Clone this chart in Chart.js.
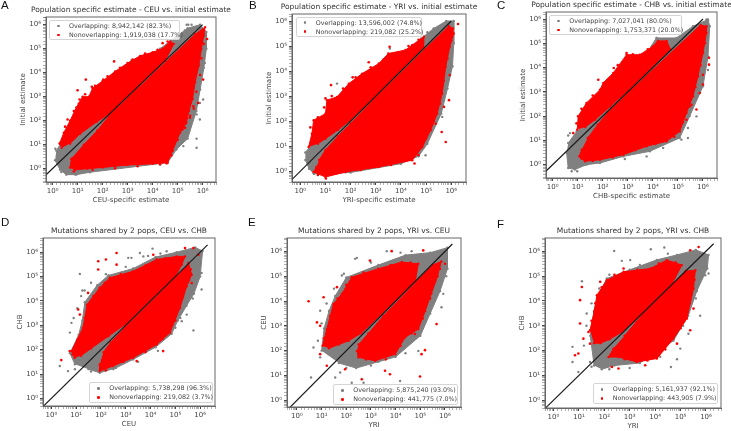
<!DOCTYPE html>
<html>
<head>
<meta charset="utf-8">
<title>Population specific estimates</title>
<script src="https://cdn.jsdelivr.net/npm/chart.js@4/dist/chart.umd.min.js"></script>
<style>
  html, body { margin: 0; width: 731px; height: 431px; background: #fff; overflow: hidden; font-family: "DejaVu Sans", sans-serif; }
  canvas { position: absolute; filter: blur(0.3px); }
  .letter { position: absolute; font: 11.5px "Liberation Sans", sans-serif; color: #111; }
  .legend { position: absolute; box-sizing: border-box; border: 1px solid #d4d4d4; border-radius: 2px; background: rgba(255,255,255,0.8);
            font-size: 6.35px; color: #444; white-space: nowrap; }
  .legend div { position: absolute; }
  .legend i { position: absolute; width: 2.6px; height: 2.6px; border-radius: 50%; }
</style>
</head>
<body>
<script>
// All pairs are [log10 x, log10 y].
const panelLetters = ['A', 'B', 'C', 'D', 'E', 'F'];
const chartTitles = [
  'Population specific estimate - CEU vs. initial estimate',
  'Population specific estimate - YRI vs. initial estimate',
  'Population specific estimate - CHB vs. initial estimate',
  'Mutations shared by 2 pops, CEU vs. CHB',
  'Mutations shared by 2 pops, YRI vs. CEU',
  'Mutations shared by 2 pops, YRI vs. CHB'
];
const xLabels = ['CEU-specific estimate', 'YRI-specific estimate', 'CHB-specific estimate', 'CEU', 'YRI', 'YRI'];
const yLabels = ['Initial estimate', 'Initial estimate', 'Initial estimate', 'CHB', 'CEU', 'CHB'];
const overlapLabels = ['Overlapping: 8,942,142 (82.3%)', 'Overlapping: 13,596,002 (74.8%)', 'Overlapping: 7,027,041 (80.0%)',
  'Overlapping: 5,738,298 (96.3%)', 'Overlapping: 5,875,240 (93.0%)', 'Overlapping: 5,161,937 (92.1%)'];
const nonOverlapLabels = ['Nonoverlapping: 1,919,038 (17.7%)', 'Nonoverlapping: 219,082 (25.2%)', 'Nonoverlapping: 1,753,371 (20.0%)',
  'Nonoverlapping: 219,082 (3.7%)', 'Nonoverlapping: 441,775 (7.0%)', 'Nonoverlapping: 443,905 (7.9%)'];
const diagonalEnds = [[-1, 6], [-1, 6], [-1, 6], [-1, 6.3], [-1, 6.3], [-1, 6.3]];

// Panel A
const grayCloudA = [[0.15,0.75],[0.3,1],[1.5,2],[3,3.5],[4.3,5],[4.75,5.35],[5.4,5.85],[5.9,6],[6.15,5.7],[6.15,5],[6.05,4.2],[5.9,3.3],[5.75,2.4],[5.4,1.25],[4.95,0.8],[4.6,0.25],[1.5,-0.15],[0.95,-0.25],[0.55,-0.25],[0.3,-0.05],[0.1,0.35]];
const redUpperA = [[0.37,0.87],[0.28,1.05],[0.45,1.5],[0.7,2],[0.95,2.55],[1.2,3],[1.45,3],[1.6,3.35],[2,3.65],[2.5,4.05],[3,4.4],[3.5,4.7],[4,4.85],[4.4,5],[4.7,5.3],[4.85,5.2],[4.5,4.5],[3,3],[2.3,2.3],[1.77,1.95],[1.1,1.45],[0.7,1.05]];
const redLowerA = [[0.75,0.4],[0.7,0.05],[0.9,-0.05],[1.4,0],[2,0.05],[3,0.15],[4,0.2],[4.6,0.25],[4.8,0.75],[5.1,1.5],[5.35,1.9],[5.45,2.4],[5.6,2.9],[5.7,3.6],[5.85,4.3],[5.95,5],[6.05,5.55],[6.1,5.9],[5.7,5.6],[2.3,2.25],[1.8,1.6],[1.25,1],[0.8,0.45]];
const redDotsA = [[2.46,4.47],[1.33,3.71],[1,3.27],[1.57,3.41],[1.08,2.88],[1.24,2.81],[1.57,2.81],[0.31,1.08],[2.03,3.71],[2.86,4.2],[4.1,4.75],[4.4,5.23],[6.18,5.4],[5.82,2.74],[5.63,2.6],[5.49,2.12],[6.02,3.71],[5.43,2.88],[4.56,0.22],[5.2,1.63],
  [0.5,1.75],[0.6,2.05],[0.85,2.4],[1.05,2.7],[1.3,3.1],[1.7,3.45],[2.2,3.85],[2.7,4.2],[3.2,4.55],[3.7,4.8],[4.2,4.95],[4.6,5.3],[0.85,-0.12],[1.6,-0.05],[2.5,0.02],[3.4,0.1],[4.3,0.17],[4.75,0.55],[5,1.2],[5.3,1.7],[5.5,2.2],[5.65,2.5],[5.75,3.2],[5.9,3.9],[5.95,4.6],[6.05,5.2]];
const grayDotsA = [[3.16,4.52],[5.76,2.26],[5.89,2.05],[5.76,1.25],[5.76,0.87],[5.23,0.94],[5.09,1.15],[6.09,4.4],[6.02,2.88],[5.76,3.02],[0.11,0.83],[0.35,-0.14],[0.9,-0.24],[5.43,6],[5.56,6],[5.29,5.76],[5.63,5.79],[5.36,6],[1.8,3.32],[5.89,2.74]];

// Panel B
const grayCloudB = [[0.2,0.75],[0.4,1],[1.5,1.9],[3,3.3],[4.3,4.8],[4.8,5.3],[5.3,5.7],[5.8,6],[6.1,6],[6.1,5.1],[6.05,4.2],[5.85,3.3],[5.6,2.3],[5.05,1.1],[4.7,0.6],[4,0.3],[2,-0.05],[1,-0.1],[0.55,-0.1],[0.35,0.1],[0.2,0.45]];
const redUpperB = [[0.33,0.97],[0.46,1.5],[0.53,2.04],[1,2.3],[1.06,2.84],[1.46,2.97],[1.93,3.5],[2.46,3.9],[3.12,4.3],[3.5,4.7],[4.18,4.84],[4.45,5.04],[4.91,5.37],[4.9,4.9],[3,3],[2,2.05],[1.5,1.65],[1,1.3],[0.7,1.1]];
const redLowerB = [[0.64,0.17],[0.53,-0.03],[1,-0.23],[1.8,-0.03],[3.12,0.17],[4.45,0.44],[4.85,0.97],[5.18,1.64],[5.44,2.3],[5.64,3.1],[5.78,4.17],[5.94,4.97],[6.1,5.5],[6.07,5.7],[5.9,5.8],[3,2.95],[2,1.9],[1.5,1.4],[1,0.85],[0.75,0.45]];
const redDotsB = [[6.27,5.88],[5.78,1.17],[5.62,1.57],[4.54,0.31],[2.72,4.35],[1.22,3.44],[2.08,3.75],[1,2.91],[1.33,2.5],[3.55,4.97],[5.94,3.84],[5.91,2.84],[5.71,2.57],[5.38,1.9],[1.02,-0.29],[0.73,-0.09],
  [0.4,1.75],[0.7,2.15],[0.95,2.55],[1.25,3],[1.7,3.3],[2.2,3.75],[2.8,4.15],[3.3,4.45],[3.9,4.75],[4.3,5],[4.7,5.25],[0.7,-0.15],[1.4,-0.1],[2.4,0.05],[3.6,0.25],[4.7,0.65],[5,1.3],[5.3,2],[5.55,2.7],[5.7,3.6],[5.85,4.5],[6,5.2]];
const grayDotsB = [[3.56,4.9],[5.51,2.9],[5.84,3.5],[4.98,0.64],[4.71,0.9],[5.05,5.55],[0.27,0.57],[0.53,-0.09],[5.91,4.7],[6.04,4.17],[4.92,0.97],[5.64,2.17],[5.51,2.3],[1.46,3.5]];

// Panel C
const grayCloudC = [[0.62,0.89],[0.96,1.37],[1.35,1.65],[3,3.4],[4.14,5.22],[4.94,5.22],[5.6,5.7],[6.2,5.98],[6.27,5.7],[6.2,4.46],[6,3.23],[5.47,2],[5.07,1.1],[3.88,0.55],[2.82,0.34],[1.89,0.07],[1.35,0],[0.89,-0.2],[0.62,-0.14],[0.56,0.48]];
const redUpperC = [[0.98,1.44],[1.02,2],[1.35,2.54],[1.89,3.09],[2.02,3.37],[2.42,3.78],[2.95,4.53],[3.48,4.53],[4.01,4.88],[4.2,5.1],[4.55,5.1],[4.7,4.75],[3,3.05],[2.3,2.4],[1.7,1.85],[1.3,1.55]];
const redLowerC = [[1.16,0.62],[1.06,0.34],[1.29,0.14],[1.89,0.2],[2.82,0.41],[3.75,0.76],[4.54,0.96],[5.07,1.37],[5.34,2.13],[5.6,2.82],[5.8,3.64],[6,4.6],[6.14,5.43],[6.14,5.7],[5.9,5.75],[3,2.95],[2.2,2.15],[1.8,1.65],[1.4,1.1]];
const redDotsC = [[6.24,4.4],[6.24,4.12],[5.47,2.4],[5.34,1.85],[5.74,2.27],[5.87,2.95],[2.95,4.6],[2.44,3.98],[1.82,3.5],[1.02,1.99],[0.82,1.3],[5.54,2.47],[6,3.7],[3.81,0.96],[6,3.3],
  [0.95,1.7],[1.15,2.3],[1.6,2.85],[2.2,3.5],[2.6,4.1],[3.2,4.55],[3.8,4.75],[1.15,0.25],[1.6,0.15],[2.4,0.3],[3.3,0.6],[4.1,0.85],[4.85,1.15],[5.2,1.75],[5.45,2.5],[5.7,3.2],[5.9,4.1],[6.08,5],[6.1,5.55]];
const grayDotsC = [[5.4,1.1],[5.14,1.03],[5.4,1.51],[5.74,1.99],[6.14,5.98],[6.2,5.95],[6.2,3.9],[0.76,-0.27],[0.98,-0.27],[0.62,1.2],[0.69,1.3],[2.88,0.23],[3.75,0.34],[4.41,0.69],[4.2,5.2]];

// Panel D
const grayCloudD = [[0.95,1.4],[0.75,1.85],[1.1,2.6],[1.25,3.2],[1.35,3.95],[1.85,4.65],[2.3,5.05],[3.3,5.33],[4.2,5.8],[5.05,6],[5.8,6.2],[6.1,6.05],[6,5],[5.75,4.3],[5.45,3.8],[5.1,3.2],[4.85,2.65],[4.2,2.1],[3.3,1.6],[2.6,1.25],[1.95,1.05],[1.5,1.2]];
const redUpperD = [[0.94,1.67],[0.81,1.94],[1.28,2.9],[1.44,3.85],[1.95,4.54],[2.36,4.95],[3.3,5.22],[4.25,5.7],[5.05,5.83],[5.39,5.83],[5.26,5.49],[5,5],[3,3.05],[2.3,2.55],[1.6,2.05],[1.2,1.75]];
const redLowerD = [[1.95,1.39],[1.95,1.12],[2.49,1.33],[3.3,1.67],[4.25,2.21],[4.78,2.69],[5.19,3.72],[5.46,4.6],[5.66,5.08],[5.53,5.56],[5.3,5.25],[3,2.95],[2.4,2.3],[2.1,1.9]];
const redDotsD = [[0.4,1.57],[1.89,5.63],[1.89,5.29],[2.63,5.97],[2.2,5.7],[2.63,5.49],[1.48,4.33],[1.08,3.65],[1.15,3.44],[0.94,2.08],[0.74,1.94],[5.39,6.17],[5.93,5.9],[3.44,1.53],[4.51,1.94],[5.66,4.74],[5.73,6.17],[4.11,5.9],
  [0.85,1.8],[1.05,2.4],[1.35,3.3],[1.7,4.2],[2.15,4.75],[2.8,5.1],[3.8,5.45],[4.6,5.75],[2.2,1.15],[2.9,1.5],[3.8,1.9],[4.5,2.45],[5,3.2],[5.3,4.15],[5.55,4.85],[5.62,5.3]];
const grayDotsD = [[1.15,5.11],[4.08,6.15],[3.71,5.83],[5.73,2.79],[0.34,1.33],[0.67,1.12],[0.81,3.1],[1.25,4.43],[1.34,4.43],[3.23,5.77],[3.57,5.97],[4.65,6.04],[6.06,5.15],[6.06,4.47],[5.46,3.44],[5.26,3.17],[3.1,5.77],
  [0.75,2.7],[0.9,3.3],[1.05,3.7],[1.2,4.2],[1.6,4.75],[2.2,5.1],[3,5.4],[3.9,5.85],[4.4,5.95],[5.9,4.9],[5.7,4.1],[5.2,3.3],[5,2.9],[4.3,1.95],[3.5,1.5],[2.5,1.2],[1.6,1.1],[0.95,1.2]];

// Panel E
const grayCloudE = [[1,2],[1.1,2.9],[1.3,3.6],[1.55,4.2],[2,4.95],[3.3,5.45],[4.4,5.85],[5.4,5.95],[6.1,6.15],[6.1,5.3],[5.8,4.4],[5.4,3.5],[5,2.6],[4,1.75],[3.3,1.55],[2.4,1.3],[1.7,1.5]];
const redUpperE = [[1.04,2.2],[1.21,2.87],[1.48,3.88],[1.82,4.29],[2.22,4.96],[3.3,5.3],[4.25,5.57],[4.92,5.5],[4.8,4.8],[3.5,3.55],[2.6,2.7],[2.1,2.4],[1.7,2.25],[1.3,2.1]];
const redLowerE = [[2.43,1.99],[2.49,1.73],[3.17,1.59],[3.98,1.86],[4.38,2.53],[4.92,2.87],[5.2,3.6],[5.45,4.3],[5.7,5],[5.85,5.6],[5.5,5.45],[3.5,3.4],[2.9,2.7],[2.5,2.25]];
const redDotsE = [[0.47,3.99],[0.81,3.14],[0.94,3],[0.94,1.86],[1.21,1.39],[1.95,1.25],[4.99,0.96],[5.19,2.02],[5.05,1.86],[3.57,1.19],[3.77,1.05],[2.63,0.85],[2.96,5.63],[3.84,6.01],[5.12,6.04],[6,5.5],[4.78,2.67],[5.66,3.07],[1.62,4.56],[1.08,4.15],
  [1.1,2.5],[1.35,3.4],[1.65,4.1],[2,4.65],[2.7,5.15],[3.8,5.45],[4.6,5.55],[2.8,1.65],[3.6,1.65],[4.2,2.2],[4.65,2.7],[5.1,3.3],[5.4,4.1],[5.6,4.8],[5.8,5.3]];
const grayDotsE = [[0.57,0.92],[2.36,5.7],[2.43,5.74],[1.82,5.03],[0.67,2.13],[0.94,3.61],[5.86,3.75],[5.93,4.29],[3.64,6.01],[4.65,6.01],[2.7,0.71],[2.22,0.71],[1.55,0.92],[4.92,1.99],[0.94,1.73],[1.75,1.12],[4.18,0.78],
  [0.85,2.4],[1,3.1],[1.2,3.9],[1.5,4.5],[1.9,5.1],[3,5.55],[4.2,5.95],[6.05,5],[5.7,4.5],[5.2,3.2],[4.4,1.9],[3,1.4],[2,1.3]];

// Panel F
const grayCloudF = [[1.6,1.4],[1.45,2.6],[1.6,3.6],[1.75,4.2],[2.1,4.9],[3,5.25],[4.07,5.65],[4.86,5.85],[5.6,6.05],[6.1,5.85],[6.05,5.3],[5.64,4.4],[5.3,3.4],[4.72,2.4],[3.4,1.5],[2.4,1.4],[1.9,1.25]];
const redUpperF = [[1.44,2.82],[1.6,3.56],[1.71,4.23],[2.1,4.83],[2.76,5.17],[3.81,5.3],[4.46,5.64],[5.05,5.44],[4.7,4.75],[3.2,3.2],[2.7,2.75],[2.2,2.45],[1.85,2.3],[1.6,2.3]];
const redLowerF = [[2.36,2.08],[2.17,1.74],[2.56,1.74],[3.28,1.54],[4.07,1.68],[4.72,2.48],[5.25,3.29],[5.51,4.5],[5.58,5.23],[5.2,5.2],[3.5,3.45],[2.8,2.6]];
const redDotsF = [[0.85,1.81],[0.98,1.88],[1.05,3.09],[1.12,4.56],[1.05,4.03],[1.38,2.75],[1.18,2.48],[1.44,2.28],[2.3,1.34],[2.56,1.28],[3.61,1.41],[5.71,6.17],[5.38,6.04],[2.76,5.3],[1.84,4.77],[5.38,2.82],[4.86,2.28],[5.05,3.15],[5.51,3.69],
  [1.5,3.2],[1.65,3.9],[1.9,4.55],[2.4,5.05],[3.3,5.25],[4.15,5.5],[4.8,5.55],[2.8,1.65],[3.7,1.6],[4.4,2.05],[5,2.9],[5.35,3.9],[5.55,4.85]];
const grayDotsF = [[2.39,6.01],[1.12,4.79],[3.83,6.08],[3.02,5.64],[2.69,5.61],[4.36,6.15],[4.62,1.34],[4.86,1.65],[0.75,2.15],[0.75,1.54],[0.98,1.14],[5.77,3.4],[5.97,5.03],[5.31,2.68],[4.99,2.08],[1.31,3.49],[1.44,1.54],
  [1.2,2.2],[1.3,3],[1.5,3.9],[1.8,4.5],[2.2,5.05],[3.4,5.45],[4.5,5.9],[6.1,5.1],[5.6,4.1],[5.1,3],[4.2,1.75],[3,1.3],[2.2,1.25],[1.5,1.35]];

const grayClouds = [grayCloudA, grayCloudB, grayCloudC, grayCloudD, grayCloudE, grayCloudF];
const redUppers = [redUpperA, redUpperB, redUpperC, redUpperD, redUpperE, redUpperF];
const redLowers = [redLowerA, redLowerB, redLowerC, redLowerD, redLowerE, redLowerF];
const redDots = [redDotsA, redDotsB, redDotsC, redDotsD, redDotsE, redDotsF];
const grayDots = [grayDotsA, grayDotsB, grayDotsC, grayDotsD, grayDotsE, grayDotsF];

// Axis ranges in decades: xmin, xmax, ymin, ymax
const axisRanges = [
  [-0.263, 6.535, -0.557, 6.32],
  [-0.33, 6.586, -0.43, 6.28],
  [-0.266, 6.56, -0.55, 6.29],
  [-0.337, 6.6, -0.314, 6.585],
  [-0.404, 6.65, -0.27, 6.54],
  [-0.33, 6.59, -0.31, 6.53]
];

// Layout of the figure, in page pixels
const plotBoxes = [
  { l: 45.7, t: 17.3, r: 216, b: 182.7 },
  { l: 291.7, t: 14, r: 465.3, b: 181.7 },
  { l: 546, t: 12.3, r: 717.3, b: 178.3 },
  { l: 43.3, t: 238.3, r: 215, b: 406.7 },
  { l: 286.7, t: 238.3, r: 461, b: 407.7 },
  { l: 545, t: 237.7, r: 720.7, b: 407.7 }
];
const legendBoxes = [
  { l: 49, t: 20, w: 131, h: 20 },
  { l: 295.7, t: 16.7, w: 126, h: 20 },
  { l: 549.3, t: 15, w: 132.4, h: 20 },
  { l: 89.3, t: 382.3, w: 123.4, h: 21 },
  { l: 333.3, t: 384.3, w: 125, h: 21 },
  { l: 592.7, t: 383.3, w: 125.6, h: 21 }
];
const letterSpots = [[1, -1], [249, -1], [497, -1], [1, 216], [248, 216], [497, 218]];

const SIDE = 40, TITLE_H = 13, XAXIS_H = 23, YAXIS_W = 28;
const superscripts = { '-1': '⁻¹', 0: '⁰', 1: '¹', 2: '²', 3: '³', 4: '⁴', 5: '⁵', 6: '⁶' };

const toPoints = (pairs) => pairs.map(([x, y]) => ({ x: 10 ** x, y: 10 ** y }));
const isDecade = (v) => {
  const e = Math.log10(v);
  return Math.abs(e - Math.round(e)) < 1e-6;
};
const decadeLabel = (v) => isDecade(v) ? '10' + (superscripts[Math.round(Math.log10(v))] || '') : '';

// The frame on all four sides, and the title centred on the plot rather than the canvas
const framePlugin = {
  id: 'frame',
  afterLayout(chart) {
    const area = chart.chartArea;
    const mid = (area.left + area.right) / 2;
    chart.titleBlock.left = mid - 130;
    chart.titleBlock.right = mid + 130;
  },
  afterDraw(chart) {
    const { ctx, chartArea: a } = chart;
    ctx.save();
    ctx.strokeStyle = '#666';
    ctx.lineWidth = 1;
    ctx.strokeRect(a.left, a.top, a.right - a.left, a.bottom - a.top);
    ctx.restore();
  }
};

function axisOptions(min, max, label, fitSize) {
  return {
    type: 'logarithmic',
    min: 10 ** min,
    max: 10 ** max,
    afterFit: fitSize,
    grid: {
      drawOnChartArea: false,
      tickLength: 3,
      tickColor: (c) => isDecade(c.tick.value) ? '#444' : 'rgba(80,80,80,0.45)'
    },
    border: { color: '#666' },
    title: { display: true, text: label, color: '#444', font: { size: 7, family: 'DejaVu Sans' }, padding: { top: 1, bottom: 1 } },
    ticks: {
      autoSkip: false,
      maxRotation: 0,
      padding: 2,
      color: '#444',
      font: { size: 7, family: 'DejaVu Sans' },
      callback: decadeLabel
    }
  };
}

function polygon(pairs) {
  return {
    data: toPoints(pairs),
    showLine: true,
    fill: 'shape',
    backgroundColor: '#ff0000',
    borderColor: '#ff0000',
    borderWidth: 1,
    pointBackgroundColor: '#ff0000',
    pointRadius: 1.2,
    pointBorderWidth: 0
  };
}

function drawPanel(i) {
  const box = plotBoxes[i];
  const width = box.r - box.l + 2 * SIDE;
  const height = box.b - box.t + TITLE_H + XAXIS_H;

  const canvas = document.createElement('canvas');
  canvas.width = Math.round(width);
  canvas.height = Math.round(height);
  canvas.style.left = (box.l - SIDE) + 'px';
  canvas.style.top = (box.t - TITLE_H) + 'px';
  document.body.appendChild(canvas);

  const range = axisRanges[i];
  const grayPoly = polygon(grayClouds[i]);
  grayPoly.backgroundColor = grayPoly.borderColor = grayPoly.pointBackgroundColor = '#808080';

  // First dataset is painted last, so the black line comes first and gray last
  new Chart(canvas, {
    type: 'scatter',
    data: {
      datasets: [
        {
          data: toPoints(diagonalEnds[i].map((v) => [v, v])),
          showLine: true,
          borderColor: '#1a1a1a',
          borderWidth: 1.2,
          pointRadius: 0
        },
        { data: toPoints(redDots[i]), backgroundColor: '#ff0000', pointRadius: 1.3, pointBorderWidth: 0, label: nonOverlapLabels[i] },
        polygon(redUppers[i]),
        polygon(redLowers[i]),
        { data: toPoints(grayDots[i]), backgroundColor: '#808080', pointRadius: 1.2, pointBorderWidth: 0, label: overlapLabels[i] },
        grayPoly
      ]
    },
    options: {
      responsive: false,
      animation: false,
      layout: { padding: { left: SIDE - YAXIS_W, right: SIDE, top: 0, bottom: 0 } },
      scales: {
        x: axisOptions(range[0], range[1], xLabels[i], (s) => { s.height = XAXIS_H; }),
        y: axisOptions(range[2], range[3], yLabels[i], (s) => { s.width = YAXIS_W; })
      },
      plugins: {
        legend: { display: false },
        tooltip: { enabled: false },
        title: {
          display: true,
          text: chartTitles[i],
          color: '#333',
          font: { size: 7.5, family: 'DejaVu Sans', weight: 'normal', lineHeight: 1.2 },
          padding: { top: 2, bottom: 2 }
        }
      }
    },
    plugins: [framePlugin]
  });

  // Legend sits inside the plot, over the cloud
  const lb = legendBoxes[i];
  const legend = document.createElement('div');
  legend.className = 'legend';
  legend.style.cssText = `left:${lb.l}px;top:${lb.t}px;width:${lb.w}px;height:${lb.h}px`;
  legend.innerHTML =
    `<i style="left:7px;top:3.7px;background:#808080"></i><div style="left:19px;top:1px">${overlapLabels[i]}</div>` +
    `<i style="left:7px;top:12.7px;background:#ff0000"></i><div style="left:19px;top:10px">${nonOverlapLabels[i]}</div>`;
  document.body.appendChild(legend);

  const letter = document.createElement('div');
  letter.className = 'letter';
  letter.textContent = panelLetters[i];
  letter.style.left = letterSpots[i][0] + 'px';
  letter.style.top = letterSpots[i][1] + 'px';
  document.body.appendChild(letter);
}

panelLetters.forEach((_, i) => drawPanel(i));
</script>
</body>
</html>
